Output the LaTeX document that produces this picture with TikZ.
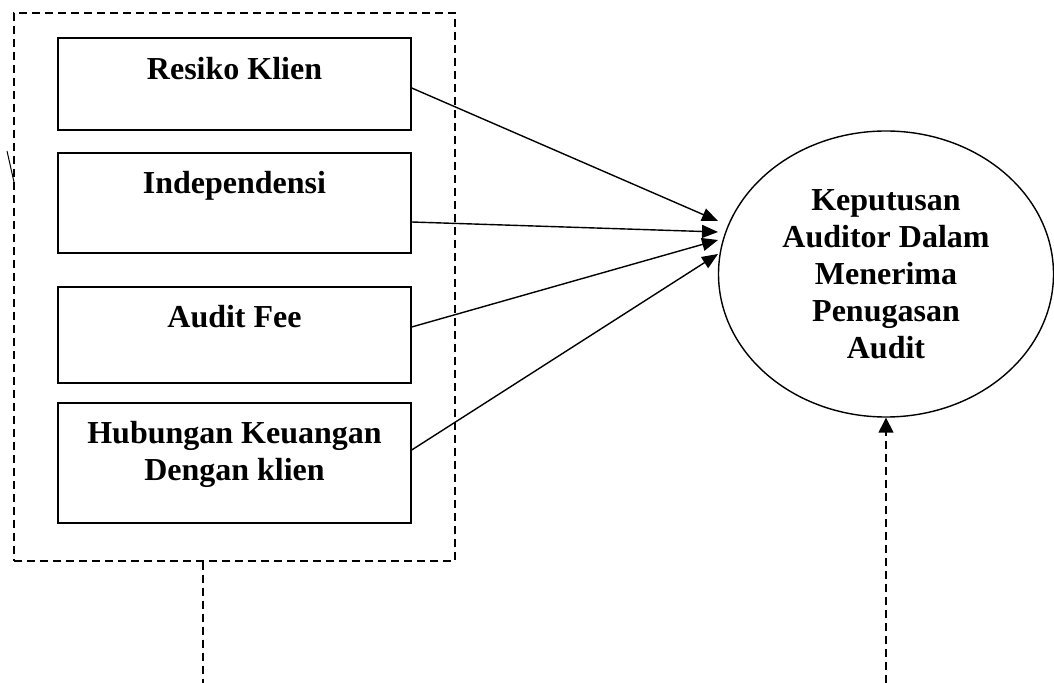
\documentclass[tikz,border=0pt]{standalone}
\usepackage{fontspec}
\setmainfont{Liberation Serif}
\usetikzlibrary{
    shapes.geometric,% for the ellipse
    arrows.meta,% Triangle tips
    calc%
}
\tikzset{
    kotak/.style={draw, line width=0.7pt, minimum width=176.5pt},
    teks/.style={font=\fontsize{16}{18.5}\selectfont\bfseries, inner sep=0pt, align=center},
    putus/.style={dash pattern=on 4pt off 2.5pt, line width=0.7pt},
    panah/.style={-{Triangle[length=8pt,width=6.5pt]}, line width=0.7pt}
}

\begin{document}
\begin{tikzpicture}[x=0.5pt, y=-0.5pt]
    \useasboundingbox (0,0) rectangle (1054,683);

    %%% dashed group round the four variables
    \node[putus, draw, minimum width=220.5pt, minimum height=274pt] (kelompok) at (234.5,287) {};
    \draw[line width=0.5pt] (7,151) -- (14,182);

    \node[kotak, minimum height=46pt] (resiko) at (234.5,84) {};
    \node[teks, anchor=base] (tresiko) at (234.5,80) {Resiko Klien};

    \node[kotak, minimum height=50pt] (indep) at (234.5,203) {};
    \node[teks, anchor=base] (tindep) at (234.5,194) {Independensi};

    \node[kotak, minimum height=48pt] (fee) at (234.5,335) {};
    \node[teks, anchor=base] (tfee) at (234.5,328) {Audit Fee};

    \node[kotak, minimum height=60pt] (hubungan) at (234.5,463) {};
    \node[teks, anchor=north] (thubungan) at (234.5,421) {Hubungan Keuangan\\Dengan klien};

    %%% dependent variable
    \node[draw, ellipse, line width=0.7pt, inner sep=0pt, minimum width=167.5pt, minimum height=143pt,
          teks] (keputusan) at (886,274)
        {Keputusan\\Auditor Dalam\\Menerima\\Penugasan\\Audit};

    \coordinate (m1) at (718,221);
    \coordinate (m2) at (718,232);
    \coordinate (m3) at (718,240);
    \coordinate (m4) at (718,254);

    \draw[panah] ([yshift=-2pt]resiko.east) -- (m1);
    \draw[panah] ([yshift=-9.5pt]indep.east) -- (m2);
    \draw[panah] ([yshift=4pt]fee.east) -- (m3);
    \draw[panah] ([yshift=6.5pt]hubungan.east) -- (m4);

    %%% dashed stubs at the bottom
    \coordinate (ujung1) at (203,683);
    \draw[putus] (kelompok.south -| ujung1) -- (ujung1);

    \coordinate (ujung2) at (886,683);
    \draw[putus, -{Triangle[length=7.5pt,width=7.5pt]}] (ujung2) -- (keputusan.south);
\end{tikzpicture}
\end{document}
